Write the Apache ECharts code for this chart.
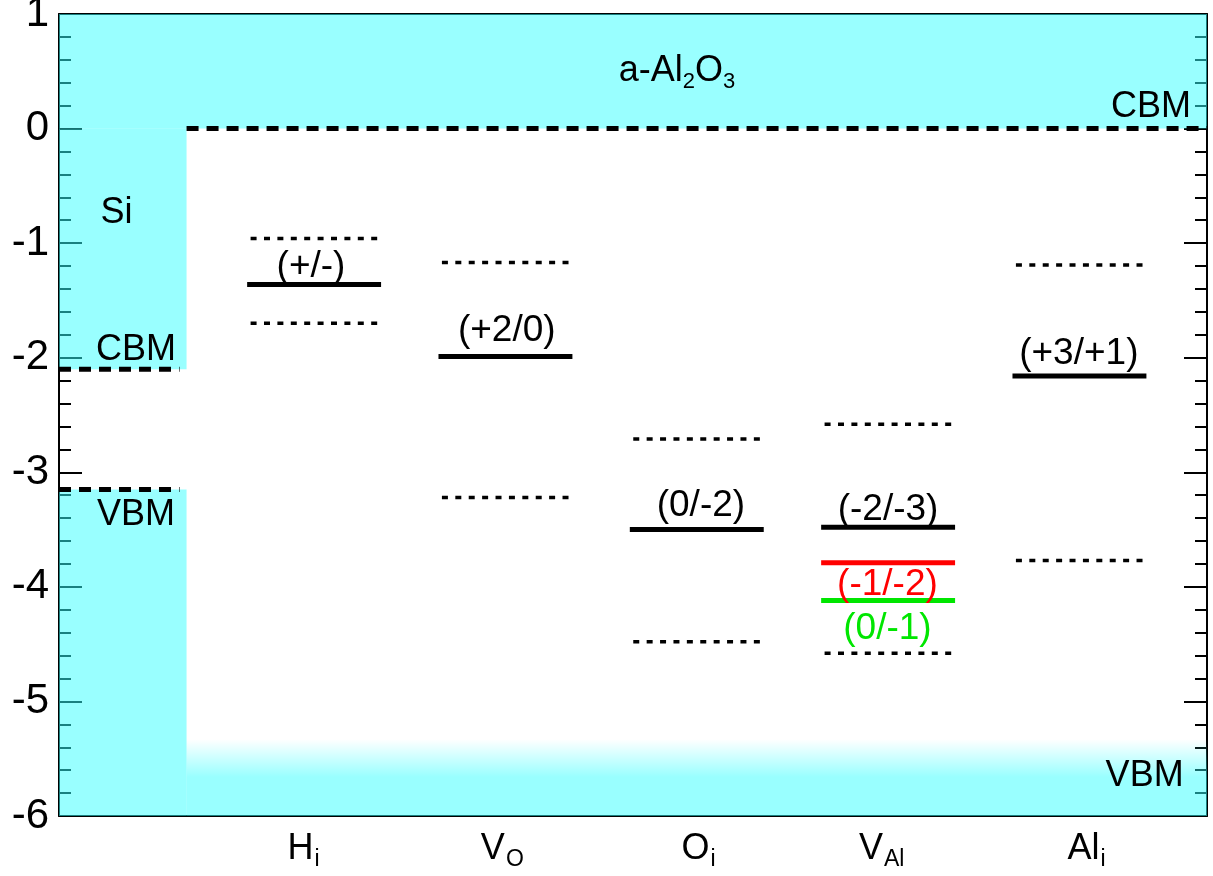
<!DOCTYPE html>
<html><head><meta charset="utf-8">
<script src="https://cdn.jsdelivr.net/npm/echarts@6/dist/echarts.min.js"></script>
<style>html,body{margin:0;padding:0;background:#fff}#c{width:1213px;height:876px}</style>
</head><body><div id="c"></div>
<script>
// ---- data ----
const defectMain = ['H', 'V', 'O', 'V', 'Al'];
const defectSub = ['i', 'O', 'i', 'Al', 'i'];
const defectX = [4 / 3, 7 / 3, 10 / 3, 13 / 3, 16 / 3];
const defectLabelX = [1.278, 2.317, 3.343, 4.30, 5.37];
const transitionLevel = [-1.36, -1.99, -3.50, -3.48, -2.16];
const upperDashedLevel = [-0.96, -1.17, -2.71, -2.58, -1.19];
const lowerDashedLevel = [-1.70, -3.22, -4.48, -4.58, -3.77];
const vAlExtraLevel = [-3.79, -4.12];           // (-1/-2) red, (0/-1) green
const siWidth = 2 / 3;
const siCBM = -2.10;
const siVBM = -3.15;
const al2o3CBM = 0;
const al2o3VBMFadeTop = -5.33;
const al2o3VBMSolid = -5.66;
const yTicks = [1, 0, -1, -2, -3, -4, -5, -6];

// annotation texts: [text, x, y, color]
const levelLabels = [
  ['(+/-)', 1.317, -1.207, '#000'],
  ['(+2/0)', 2.34, -1.768, '#000'],
  ['(0/-2)', 3.355, -3.296, '#000'],
  ['(-2/-3)', 4.333, -3.325, '#000'],
  ['(-1/-2)', 4.33, -3.978, '#ff0000'],
  ['(0/-1)', 4.33, -4.362, '#00e600'],
  ['(+3/+1)', 5.33, -1.964, '#000']
];
const bandLabels = [
  ['Si', 0.30, -0.735],
  ['CBM', 0.403, -1.934],
  ['VBM', 0.403, -3.37],
  ['a-Al{s|2}O{s|3}', 3.23, 0.50],
  ['CBM', 5.707, 0.185],
  ['VBM', 5.674, -5.648]
];

// ---- chart ----
const FONT = '"Liberation Sans", Arial, Helvetica, sans-serif';
const CYAN = 'rgb(51,255,255)';
const chart = echarts.init(document.getElementById('c'), null, {renderer: 'canvas'});

function seg(x0, x1, y) { return [[x0, y], [x1, y]]; }

const series = [];

// background bands
series.push({
  type: 'line', data: [], z: 1, silent: true,
  markArea: {
    silent: true,
    itemStyle: {color: CYAN, opacity: 0.5, borderWidth: 0},
    label: {show: false},
    data: [
      [{xAxis: 0, yAxis: 1}, {xAxis: 6, yAxis: al2o3CBM}],
      [{xAxis: 0, yAxis: 0}, {xAxis: siWidth, yAxis: siCBM}],
      [{xAxis: 0, yAxis: siVBM}, {xAxis: siWidth, yAxis: -6}],
      [{xAxis: siWidth, yAxis: al2o3VBMSolid}, {xAxis: 6, yAxis: -6}],
      [{xAxis: siWidth, yAxis: al2o3VBMFadeTop,
        itemStyle: {color: new echarts.graphic.LinearGradient(0, 0, 0, 1, [
          {offset: 0, color: 'rgba(51,255,255,0)'},
          {offset: 1, color: 'rgba(51,255,255,1)'}
        ])}},
       {xAxis: 6, yAxis: al2o3VBMSolid}]
    ]
  }
});

// band edges (thick dashed)
const bandEdgeStyle = {color: '#000', width: 5, type: [12, 8], cap: 'butt'};
[seg(siWidth, 6, al2o3CBM), seg(0, 0.63, siCBM), seg(0, 0.63, siVBM)].forEach(d => {
  series.push({type: 'line', data: d, symbol: 'none', z: 3, silent: true,
    lineStyle: bandEdgeStyle});
});

// defect levels
const solidHalf = 0.35, dashHalf = 0.332;
defectX.forEach((x, i) => {
  series.push({type: 'line', symbol: 'none', z: 4, silent: true,
    data: seg(x - solidHalf, x + solidHalf, transitionLevel[i]),
    lineStyle: {color: '#000', width: 5, cap: 'butt'}});
  series.push({type: 'line', symbol: 'none', z: 4, silent: true,
    data: seg(x - dashHalf, x + dashHalf, upperDashedLevel[i]),
    lineStyle: {color: '#000', width: 3.5, type: [6, 7.4], cap: 'butt'}});
  series.push({type: 'line', symbol: 'none', z: 4, silent: true,
    data: seg(x - dashHalf, x + dashHalf, lowerDashedLevel[i]),
    lineStyle: {color: '#000', width: 3.5, type: [6, 7.4], cap: 'butt'}});
});
const vAlX = defectX[3];
series.push({type: 'line', symbol: 'none', z: 4, silent: true,
  data: seg(vAlX - solidHalf, vAlX + solidHalf, vAlExtraLevel[0]),
  lineStyle: {color: '#ff0000', width: 5, cap: 'butt'}});
series.push({type: 'line', symbol: 'none', z: 4, silent: true,
  data: seg(vAlX - solidHalf, vAlX + solidHalf, vAlExtraLevel[1]),
  lineStyle: {color: '#00e600', width: 5, cap: 'butt'}});

// text annotations
const plainText = {textBorderWidth: 0, textBorderColor: 'transparent', textShadowBlur: 0, opacity: 1};
series.push({
  type: 'scatter', symbolSize: 0, z: 5, silent: true,
  itemStyle: {color: 'transparent'},
  data: levelLabels.map(l => ({value: [l[1], l[2]], name: l[0],
    label: {color: l[3]}})),
  label: Object.assign({show: true, position: 'inside', formatter: p => p.name,
    fontSize: 37, fontFamily: FONT}, plainText)
});
series.push({
  type: 'scatter', symbolSize: 0, z: 5, silent: true,
  itemStyle: {color: 'transparent'},
  data: bandLabels.map(l => ({value: [l[1], l[2]], name: l[0]})),
  label: Object.assign({show: true, position: 'inside', formatter: p => p.name,
    fontSize: 36, fontFamily: FONT, color: '#000',
    rich: {s: {fontSize: 22, fontFamily: FONT, color: '#000', padding: [22, 0, 0, 0]}}}, plainText)
});

const yAxisCommon = {
  type: 'value', min: -6, max: 1, interval: 1,
  axisLine: {show: true, onZero: false, lineStyle: {color: '#000', width: 2}},
  axisTick: {show: true, inside: true, length: 23, lineStyle: {color: '#000', width: 2}},
  minorTick: {show: true, splitNumber: 5, length: 12, lineStyle: {color: '#000', width: 2}},
  splitLine: {show: false}
};

chart.setOption({
  animation: false,
  backgroundColor: '#fff',
  grid: {left: 59, right: 6, top: 14, bottom: 60, containLabel: false, outerBoundsMode: 'none'},
  xAxis: [{
    type: 'value', min: 0, max: 6, position: 'bottom',
    axisLine: {show: true, onZero: false, lineStyle: {color: '#000', width: 2}},
    axisTick: {show: false}, splitLine: {show: false},
    axisLabel: {
      show: true, customValues: defectLabelX, margin: 12,
      formatter: v => {
        const i = defectLabelX.findIndex(d => Math.abs(d - v) < 1e-6);
        return i < 0 ? '' : '{m|' + defectMain[i] + '}{s|' + defectSub[i] + '}';
      },
      rich: {
        m: {fontSize: 36, fontFamily: FONT, color: '#000'},
        s: {fontSize: 23, fontFamily: FONT, color: '#000', padding: [20, 0, 0, 1]}
      }
    }
  }, {
    type: 'value', min: 0, max: 6, position: 'top',
    axisLine: {show: true, onZero: false, lineStyle: {color: '#000', width: 2}},
    axisTick: {show: false}, axisLabel: {show: false}, splitLine: {show: false}
  }],
  yAxis: [Object.assign({}, yAxisCommon, {
    position: 'left',
    axisLabel: {show: true, fontSize: 42, fontFamily: FONT, color: '#000', margin: 10,
      formatter: v => yTicks.indexOf(v) >= 0 ? String(v) : ''}
  }), Object.assign({}, yAxisCommon, {
    position: 'right', axisLabel: {show: false}
  })],
  series: series
});
</script>
</body></html>
